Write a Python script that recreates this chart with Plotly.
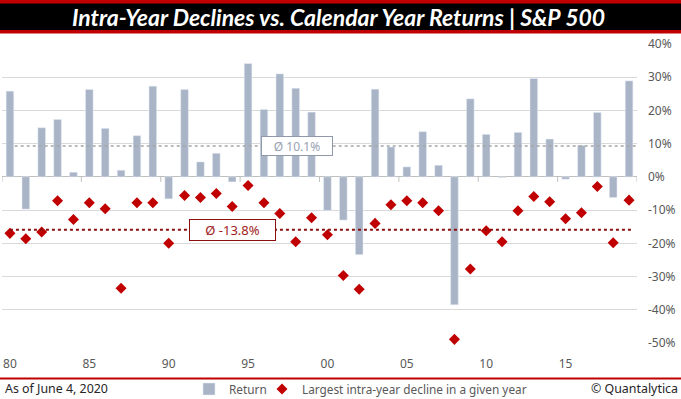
import plotly.graph_objects as go

# ---- data ----
years = list(range(1980, 2020))
returns = [25.8, -9.7, 14.8, 17.3, 1.4, 26.3, 14.6, 2.0, 12.4, 27.3,
           -6.6, 26.3, 4.5, 7.1, -1.5, 34.1, 20.3, 31.0, 26.7, 19.5,
           -10.1, -13.0, -23.4, 26.4, 9.0, 3.0, 13.6, 3.5, -38.5, 23.5,
           12.8, -0.2, 13.4, 29.6, 11.4, -0.7, 9.5, 19.4, -6.2, 28.9]
declines = [-17.0, -18.6, -16.6, -7.2, -12.8, -7.8, -9.6, -33.5, -7.8, -7.8,
            -20.0, -5.6, -6.2, -5.0, -8.9, -2.6, -7.8, -11.0, -19.5, -12.3,
            -17.4, -29.7, -33.8, -14.0, -8.4, -7.2, -7.8, -10.2, -48.9, -27.7,
            -16.2, -19.5, -10.2, -5.9, -7.5, -12.6, -10.8, -2.9, -19.8, -7.0]
tick_years = [1980, 1985, 1990, 1995, 2000, 2005, 2010, 2015]
tick_labels = ["80", "85", "90", "95", "00", "05", "10", "15"]
y_ticks = [40, 30, 20, 10, 0, -10, -20, -30, -40, -50]
avg_return_line = 9.3
avg_return_label = "Ø 10.1%"
avg_decline_line = -15.9
avg_decline_label = "Ø -13.8%"

BAR = "#a9b4c7"
RED = "#c00000"
DRED = "#8b0f0f"
FONT = "Noto Sans"

fig = go.Figure()
fig.add_trace(go.Bar(x=years, y=returns, name="Return", marker_color=BAR,
                     width=0.48, legend="legend"))
fig.add_trace(go.Scatter(x=years, y=declines, mode="markers",
                         name="Largest intra-year decline in a given year",
                         marker=dict(symbol="diamond", size=8.5, color=RED),
                         cliponaxis=False, legend="legend2"))

shapes = []
# average lines
shapes.append(dict(type="line", xref="x", yref="y", x0=1980.3, x1=2019.5,
                   y0=avg_return_line, y1=avg_return_line,
                   line=dict(color="#a6a6a6", width=1.5, dash="dot"), layer="above"))
shapes.append(dict(type="line", xref="x", yref="y", x0=1980, x1=2019.3,
                   y0=avg_decline_line, y1=avg_decline_line,
                   line=dict(color=DRED, width=2, dash="dot"), layer="above"))
# category tick marks at the zero line
for b in range(0, len(years) + 1, 5):
    xb = years[0] - 0.5 + b
    shapes.append(dict(type="line", xref="x", yref="y", x0=xb, x1=xb,
                       ysizemode="pixel", yanchor=0, y0=0, y1=-5,
                       line=dict(color="#bfbfbf", width=1)))
# title band
W, H, L, PW = 681, 399, 2, 635
def px(xp):
    return (xp - L) / PW
def py(yp):
    return (343 - yp) / 299
shapes.append(dict(type="rect", xref="paper", yref="paper", x0=px(0), x1=px(W),
                   y0=py(0), y1=py(33.5), fillcolor=RED, line_width=0, layer="below"))
shapes.append(dict(type="rect", xref="paper", yref="paper", x0=px(0), x1=px(W),
                   y0=py(3.5), y1=py(30), fillcolor="#000000", line_width=0, layer="below"))
# footer line
shapes.append(dict(type="line", xref="paper", yref="paper", x0=px(0), x1=px(W),
                   y0=py(378.5), y1=py(378.5), line=dict(color=RED, width=2)))

annotations = [
    dict(text="<b><i>Intra-Year Declines vs. Calendar Year Returns | S&amp;P 500</i></b>",
         xref="paper", yref="paper", x=px(338.5), y=py(17.5), showarrow=False,
         font=dict(family="Lato", size=23, color="white"),
         xanchor="center", yanchor="middle"),
    dict(text=avg_return_label, xref="x", yref="y", x=1998.1, y=avg_return_line,
         showarrow=False, font=dict(family=FONT, size=12, color="#98a2b3"),
         bgcolor="white", bordercolor="#8f99aa", borderwidth=1, borderpad=1,
         width=68, height=16),
    dict(text=avg_decline_label, xref="x", yref="y", x=1994.0, y=avg_decline_line,
         showarrow=False, font=dict(family=FONT, size=13, color="#a01c1c"),
         bgcolor="white", bordercolor=DRED, borderwidth=1, borderpad=1,
         width=83, height=18),
    dict(text="As of June 4, 2020", xref="paper", yref="paper", x=px(3), y=py(389),
         showarrow=False, xanchor="left", yanchor="middle",
         font=dict(family=FONT, size=12.4, color="#262626")),
    dict(text="© Quantalytica", xref="paper", yref="paper", x=px(680), y=py(389),
         showarrow=False, xanchor="right", yanchor="middle",
         font=dict(family=FONT, size=12.4, color="#262626")),
]

legend_common = dict(orientation="h", xref="container", yref="container",
                     y=(H - 389) / H, xanchor="left", yanchor="middle",
                     font=dict(family=FONT, size=11.8, color="#595959"),
                     bgcolor="rgba(0,0,0,0)", itemwidth=30)

fig.update_layout(
    width=W, height=H,
    margin=dict(l=L, r=W - L - PW, t=44, b=56, autoexpand=False),
    paper_bgcolor="white", plot_bgcolor="white",
    font=dict(family=FONT, size=12, color="#595959"),
    bargap=0.5,
    shapes=shapes, annotations=annotations,
    showlegend=True,
    legend=dict(x=189 / W, **legend_common),
    legend2=dict(x=262 / W, **legend_common),
    xaxis=dict(range=[1979.5, 2019.5], tickvals=tick_years, ticktext=tick_labels,
               showgrid=False, zeroline=False, showline=False,
               ticks="outside", ticklen=10, tickcolor="rgba(0,0,0,0)",
               tickfont=dict(size=12, color="#595959")),
    yaxis=dict(range=[-50, 40], side="right", tickvals=y_ticks,
               ticktext=[f"{v}%" for v in y_ticks],
               showgrid=True, gridcolor="#d9d9d9", gridwidth=1,
               zeroline=True, zerolinecolor="#bfbfbf", zerolinewidth=1,
               showline=False, ticks="", ticklabelstandoff=10,
               tickfont=dict(size=12, color="#595959")),
)

fig.write_html("out.html", config={"displayModeBar": False},
               post_script="document.body.style.margin='0px';document.body.style.overflow='hidden';")
